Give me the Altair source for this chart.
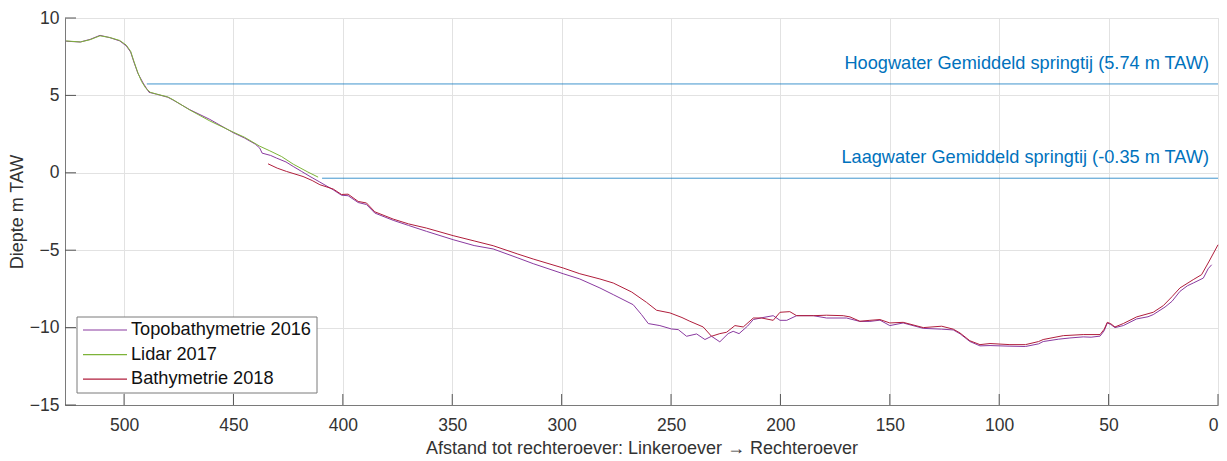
import altair as alt
import pandas as pd

# Cross-section profiles: distance to right bank (m) and depth (m TAW)
topo_2016_x = [526.5, 520, 515.5, 511, 506.5, 502, 499, 497, 495.5, 493.6, 491.3, 489.5, 488.6,
               485.2, 480, 477.6, 470, 460.8, 450.2, 445, 440, 438, 436.9, 433, 430.3, 426,
               422.7, 419, 415, 410.5, 404.4, 400.6, 397.6, 393, 389.2, 385.4, 377, 370, 361.8,
               349.6, 340, 331.3, 320, 313, 299.3, 291.7, 282.5, 276.4, 267.3, 263.5, 260.4,
               255.1, 249.8, 246.7, 242.9, 238.3, 234.5, 231.5, 227.7, 223.9, 221.6, 218.9, 215,
               212.4, 208, 203.3, 200.2, 197.1, 192.6, 185, 178.9, 169.8, 163.7, 159.1, 154.5,
               150, 143.9, 134.7, 126.3, 121, 117.9, 113.4, 108.8, 104.2, 95.1, 88, 82, 79.9,
               73, 67.7, 61.6, 58, 53.9, 52, 50.6, 49, 47.1, 43.3, 37.2, 32, 29.6, 24.2, 21,
               17.4, 14, 11.3, 6.7, 4.5, 2.9]
topo_2016_y = [8.5, 8.45, 8.62, 8.88, 8.73, 8.52, 8.2, 7.8, 7.15, 6.4, 5.8, 5.4, 5.2,
               5.08, 4.88, 4.7, 4.08, 3.45, 2.6, 2.25, 1.85, 1.6, 1.27, 1.12, 0.95, 0.7,
               0.41, 0.1, -0.24, -0.6, -1.1, -1.45, -1.48, -1.92, -2.05, -2.6, -3.07, -3.4, -3.78,
               -4.32, -4.7, -4.92, -5.5, -5.87, -6.52, -6.86, -7.44, -7.87, -8.52, -9.16, -9.74,
               -9.87, -10.09, -10.13, -10.56, -10.41, -10.77, -10.56, -10.92, -10.39, -10.24, -10.39, -9.9,
               -9.48, -9.35, -9.23, -9.53, -9.53, -9.23, -9.23, -9.38, -9.38, -9.6, -9.6, -9.52,
               -9.87, -9.7, -10.05, -10.1, -10.15, -10.4, -10.9, -11.18, -11.16, -11.2, -11.22, -11.05, -10.9,
               -10.75, -10.67, -10.6, -10.62, -10.55, -10.2, -9.7, -9.8, -10.0, -9.87, -9.44, -9.3, -9.16, -8.67, -8.3,
               -7.66, -7.3, -7.12, -6.8, -6.2, -5.94]

lidar_2017_x = [526.5, 520, 515.5, 511, 506.5, 502, 499, 497, 495.5, 493.8, 492, 490, 488,
                485, 480, 477.6, 470, 460.8, 450, 445, 438, 433.4, 428, 422.7, 416, 411.3]
lidar_2017_y = [8.52, 8.45, 8.6, 8.85, 8.74, 8.55, 8.25, 7.85, 7.2, 6.5, 5.9, 5.45, 5.2,
                5.08, 4.9, 4.72, 4.06, 3.35, 2.62, 2.3, 1.72, 1.42, 1.05, 0.56, 0.05, -0.28]

bathy_2018_x = [434.2, 430, 425.8, 418.2, 414, 410.5, 404.4, 400.6, 397.6, 393, 389.2, 385.4,
                377, 370, 361.8, 349.6, 340, 331.3, 320, 313, 299.3, 291.7, 282.5, 276.4, 268,
                261.2, 256.6, 250.5, 245, 241.4, 235.3, 231.5, 227.7, 224.6, 220.8, 217, 212.4,
                208.6, 203.3, 200.2, 195.7, 192.6, 185, 178.9, 171.3, 168.2, 163.7, 159.1, 154.5,
                150, 143.9, 134.7, 126.3, 121, 117.9, 113.4, 108.8, 104.2, 95.1, 88, 82, 79.9,
                70.7, 61.6, 53.9, 52, 50.6, 49, 47.1, 43.3, 37.2, 29.6, 25, 21, 17.4, 11.3, 7.5,
                4, 0]
bathy_2018_y = [0.58, 0.3, 0.09, -0.24, -0.5, -0.77, -1.05, -1.4, -1.38, -1.85, -1.95, -2.52,
                -2.99, -3.3, -3.57, -4.06, -4.4, -4.71, -5.25, -5.57, -6.15, -6.52, -6.86, -7.12, -7.7,
                -8.37, -8.88, -9.05, -9.35, -9.59, -9.96, -10.56, -10.39, -10.3, -9.87, -9.96, -9.38,
                -9.38, -9.53, -9.01, -8.97, -9.23, -9.23, -9.2, -9.23, -9.31, -9.59, -9.53, -9.48,
                -9.7, -9.66, -10.0, -9.91, -10.1, -10.35, -10.85, -11.1, -11.03, -11.1, -11.1, -10.9, -10.77,
                -10.52, -10.45, -10.45, -10.1, -9.66, -9.75, -9.96, -9.74, -9.31, -9.01, -8.58, -8.0, -7.44, -6.9, -6.58,
                -5.7, -4.65]

series_names = ["Topobathymetrie 2016", "Lidar 2017", "Bathymetrie 2018"]
series_colors = ["#8a3aa0", "#7db338", "#b01e3c"]

# Mean spring tide levels (m TAW) and where each line starts
tide_labels = ["Hoogwater Gemiddeld springtij (5.74 m TAW)",
               "Laagwater Gemiddeld springtij (-0.35 m TAW)"]
tide_levels = [5.74, -0.35]
tide_start = [489.6, 409.5]
tide_end = [0, 0]

x_ticks = [500, 450, 400, 350, 300, 250, 200, 150, 100, 50, 0]
y_ticks = [10, 5, 0, -5, -10, -15]

W, H = 1153, 387
FONT = "Liberation Sans"

rows = []
for name, xs, ys in zip(series_names,
                        [topo_2016_x, lidar_2017_x, bathy_2018_x],
                        [topo_2016_y, lidar_2017_y, bathy_2018_y]):
    for i, (a, b) in enumerate(zip(xs, ys)):
        rows.append({"serie": name, "afstand": a, "diepte": b, "i": i})
profiles = pd.DataFrame(rows)

tides = pd.DataFrame({"label": tide_labels, "level": tide_levels,
                      "x0": tide_start, "x1": tide_end})

x_scale = alt.Scale(domain=[0, 527], reverse=True, nice=False, zero=False)
y_scale = alt.Scale(domain=[-15, 10], nice=False, zero=False)
color_scale = alt.Scale(domain=series_names, range=series_colors)

x_axis = alt.Axis(values=x_ticks, title="Afstand tot rechteroever: Linkeroever \u2192 Rechteroever",
                  grid=True, gridColor="#e2e2e2", gridWidth=1, ticks=False,
                  domainColor="#7a7a7a", domainWidth=1,
                  labelFont=FONT, labelFontSize=17.5, labelColor="#333333", labelPadding=11,
                  titleFont=FONT, titleFontSize=18, titleFontWeight="normal", titleColor="#333333",
                  titlePadding=6)
y_axis = alt.Axis(values=y_ticks, title="Diepte m TAW",
                  grid=True, gridColor="#e2e2e2", gridWidth=1, ticks=False,
                  domainColor="#7a7a7a", domainWidth=1,
                  labelFont=FONT, labelFontSize=17.5, labelColor="#333333", labelPadding=6,
                  titleFont=FONT, titleFontSize=18, titleFontWeight="normal", titleColor="#333333",
                  titlePadding=3)

lines = alt.Chart(profiles).mark_line(strokeWidth=1, interpolate="linear").encode(
    x=alt.X("afstand:Q", scale=x_scale, axis=x_axis),
    y=alt.Y("diepte:Q", scale=y_scale, axis=y_axis),
    color=alt.Color("serie:N", scale=color_scale, legend=None),
    order="i:Q",
)

tide_lines = alt.Chart(tides).mark_rule(color="#0072BD", strokeWidth=1, opacity=0.75).encode(
    x=alt.X("x0:Q", scale=x_scale),
    x2="x1:Q",
    y=alt.Y("level:Q", scale=y_scale),
)

tide_text = alt.Chart(tides).mark_text(align="right", baseline="alphabetic", dx=-9, dy=-15,
                                       font=FONT, fontSize=18.2, color="#0072BD").encode(
    x=alt.X("x1:Q", scale=x_scale),
    y=alt.Y("level:Q", scale=y_scale),
    text="label:N",
)

# inward tick marks along the bottom and left axes
xt = pd.DataFrame({"t": x_ticks})
yt = pd.DataFrame({"t": y_ticks})
x_tick_marks = alt.Chart(xt).mark_rule(color="#555555", strokeWidth=1).encode(
    x=alt.X("t:Q", scale=x_scale), y=alt.value(H), y2=alt.value(H - 11))
y_tick_marks = alt.Chart(yt).mark_rule(color="#555555", strokeWidth=1).encode(
    y=alt.Y("t:Q", scale=y_scale), x=alt.value(0), x2=alt.value(11))

# boxed legend in the lower-left corner of the plot
legend_df = pd.DataFrame({"serie": series_names, "k": list(range(len(series_names)))})
LEG_X0, LEG_X1, LEG_Y0, LEG_Y1 = 12, 252, 299, 375
ROW0, ROW_STEP = 312, 24.6

legend_box = alt.Chart(pd.DataFrame({"b": [0]})).mark_rect(
    fill="white", stroke="#7a7a7a", strokeWidth=1).encode(
    x=alt.value(LEG_X0), x2=alt.value(LEG_X1), y=alt.value(LEG_Y0), y2=alt.value(LEG_Y1))

legend_base = alt.Chart(legend_df).transform_calculate(
    ly=f"{ROW0} + {ROW_STEP} * datum.k")

legend_swatch = legend_base.mark_rule(strokeWidth=1.2).encode(
    x=alt.value(18), x2=alt.value(62),
    y=alt.Y("ly:Q", scale=None),
    color=alt.Color("serie:N", scale=color_scale, legend=None),
)
legend_label = legend_base.mark_text(align="left", baseline="middle", font=FONT,
                                     fontSize=18.2, color="#111111").encode(
    x=alt.value(66),
    y=alt.Y("ly:Q", scale=None),
    text="serie:N",
)

chart = alt.layer(x_tick_marks, y_tick_marks, tide_lines, lines, tide_text,
                  legend_box, legend_swatch, legend_label).properties(
    width=W, height=H,
    autosize=alt.AutoSizeParams(type="none"),
    padding={"left": 65, "top": 18, "right": 9, "bottom": 56},
).configure_view(stroke=None).configure(background="white")

chart.save("out.html", embed_options={"renderer": "svg", "actions": False})
